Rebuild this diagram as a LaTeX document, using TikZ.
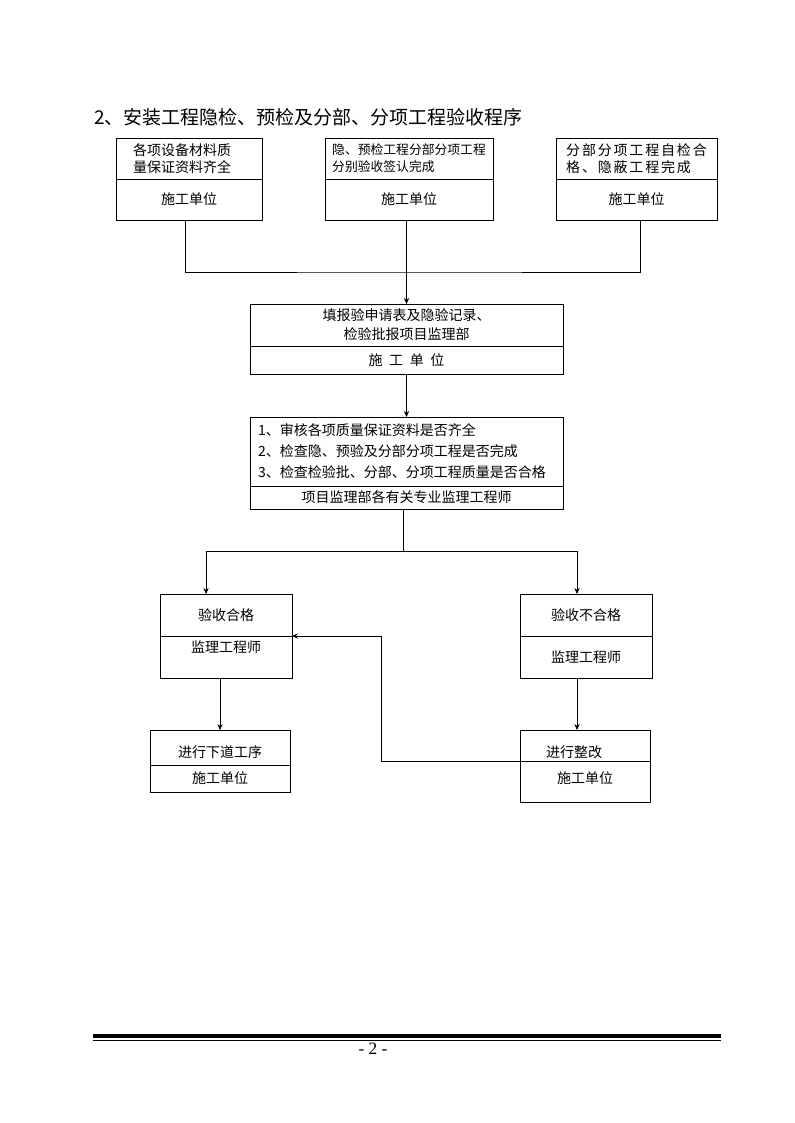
\documentclass[tikz,border=0pt]{standalone}
\usepackage{fontspec}
\usepackage{tikz}
\usetikzlibrary{arrows.meta}
\setmainfont{Liberation Serif}
\newfontfamily\cjk{Noto Sans CJK SC}
\newfontfamily\cjkwide[LetterSpace=13]{Noto Sans CJK SC}

\begin{document}
\begin{tikzpicture}[x=0.75pt,y=-0.75pt,
    part/.style={draw,line width=0.6pt,anchor=north west,inner sep=0pt,outer sep=0pt,
      font=\cjk\fontsize{10.5}{12.75}\selectfont},
    link/.style={line width=0.6pt},
    arr/.style={line width=0.6pt,-{Stealth[length=4.5pt,width=4pt]}}]
  \useasboundingbox (0,0) rectangle (794,1123);

  % Title
  \node[anchor=west,inner sep=0pt,font=\cjk\fontsize{14.25}{16}\selectfont] (title) at (94,117)
    {2、安装工程隐检、预检及分部、分项工程验收程序};

  % Top row of boxes
  \node[part,minimum width=109.5pt,minimum height=30.75pt,align=left,
    text width=84pt,inner xsep=12.75pt] (b1t) at (116,138) {各项设备材料质\\量保证资料齐全};
  \node[part,minimum width=109.5pt,minimum height=30.75pt] (b1b) at (116,179) {施工单位};

  \node[part,minimum width=126pt,minimum height=30.75pt,align=left,
    font=\cjk\fontsize{9.6}{12.75}\selectfont] (b2t) at (325,138) {隐、预检工程分部分项工程\\分别验收签认完成};
  \node[part,minimum width=126pt,minimum height=30.75pt] (b2b) at (325,179) {施工单位};

  \node[part,minimum width=120.75pt,minimum height=30.75pt,align=left,
    font=\cjkwide\fontsize{10.5}{12.75}\selectfont] (b3t) at (556,138) {分部分项工程自检合\\格、隐蔽工程完成};
  \node[part,minimum width=120.75pt,minimum height=30.75pt] (b3b) at (556,179) {施工单位};

  % Application box
  \node[part,minimum width=234.75pt,minimum height=31.5pt,align=center,
    font=\cjk\fontsize{10.5}{14.25}\selectfont] (b4t) at (250,304) {填报验申请表及隐验记录、\\检验批报项目监理部};
  \node[part,minimum width=234.75pt,minimum height=21pt] (b4b) at (250,346) {\spaceskip=5pt 施 工 单 位};

  % Check box
  \node[part,minimum width=234.75pt,minimum height=51.75pt,align=left,
    text width=222.75pt,inner xsep=6pt,
    font=\cjk\fontsize{10.5}{15.75}\selectfont] (b5t) at (250,417)
    {1、审核各项质量保证资料是否齐全\\2、检查隐、预验及分部分项工程是否完成\\3、检查检验批、分部、分项工程质量是否合格};
  \node[part,minimum width=234.75pt,minimum height=17.25pt] (b5b) at (250,486) {项目监理部各有关专业监理工程师};

  % Results
  \node[part,minimum width=99pt,minimum height=31.5pt] (b6t) at (160,594) {验收合格};
  \node[part,minimum width=99pt,minimum height=31.5pt,text height=8.9pt,text depth=15.8pt] (b6b) at (160,636) {监理工程师};
  \node[part,minimum width=99pt,minimum height=31.5pt] (b7t) at (520,594) {验收不合格};
  \node[part,minimum width=99pt,minimum height=31.5pt] (b7b) at (520,636) {监理工程师};

  \node[part,minimum width=105pt,minimum height=26.25pt,text height=15.7pt,text depth=0.8pt] (b8t) at (150,730) {进行下道工序};
  \node[part,minimum width=105pt,minimum height=20.25pt] (b8b) at (150,765) {施工单位};
  \node[part,minimum width=97.5pt,minimum height=23.25pt,text height=18.7pt,text depth=0.8pt,
    align=left,text width=58.5pt,inner xsep=19.5pt] (b9t) at (520,730) {进行整改};
  \node[part,minimum width=97.5pt,minimum height=30.75pt,text height=8.9pt,text depth=6pt] (b9b) at (520,761) {施工单位};

  % Connectors
  \coordinate (jn) at (406,272);
  \coordinate (sp) at (403,551);
  \coordinate (bk) at (381,700);
  \draw[link] ([xshift=-3pt]b1b.south) |- (jn) -| ([xshift=3pt]b3b.south);
  \draw[arr] (b2b.south -| b4t.north) -- (b4t.north);
  \draw[arr] (b4b.south) -- (b5t.north);
  \draw[link] (b5b.south -| sp) -- (sp);
  \draw[arr] (sp) -| ([xshift=-15pt]b6t.north);
  \draw[arr] (sp) -| ([xshift=-6.75pt]b7t.north);
  \draw[arr] (b6b.south -| b8t.north) -- (b8t.north);
  \draw[arr] ([xshift=-6.75pt]b7b.south) -- ([xshift=-6.75pt]b7b.south |- b9t.north);
  \draw[arr] (b9b.north west) -- (b9b.north west -| bk) |- (b6b.north east);

  % Footer
  \draw[line width=3pt] (93,1036) -- (721,1036);
  \draw[line width=0.75pt] (93,1040) -- (721,1040);
  \node[font=\fontsize{13}{15}\selectfont,inner sep=0pt] (pg) at (373,1049) {- 2 -};
\end{tikzpicture}
\end{document}
